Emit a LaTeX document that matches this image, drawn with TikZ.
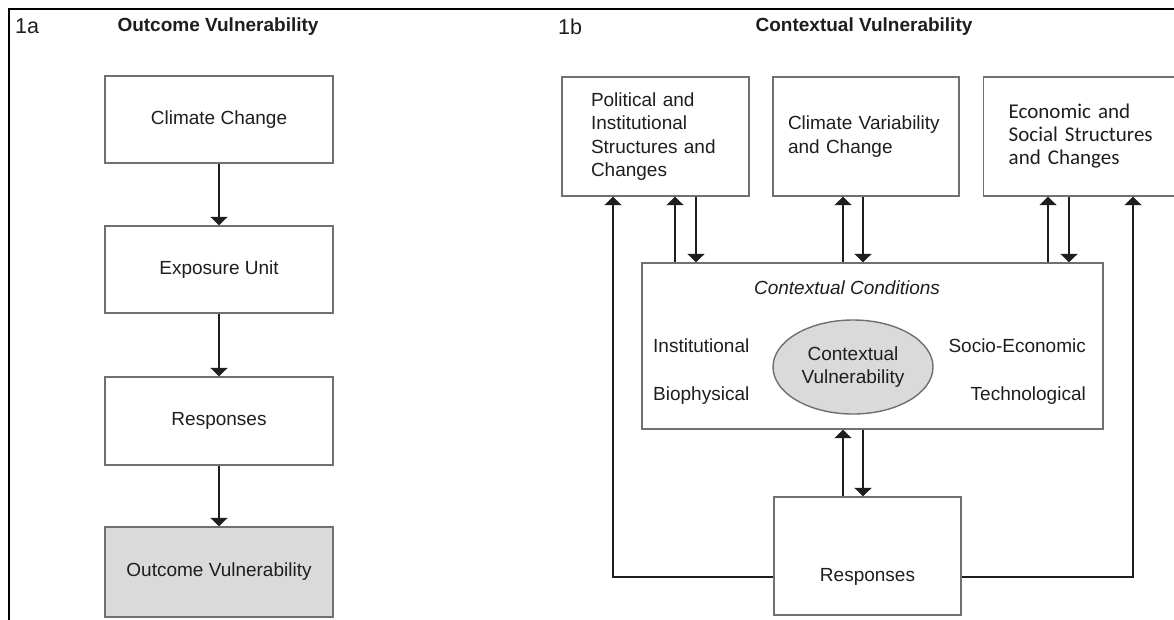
\documentclass[tikz,border=0pt]{standalone}
\usepackage{fontspec}
\setmainfont{Liberation Sans}
\newfontfamily\ecofont{Carlito}
\usetikzlibrary{arrows.meta,shapes.geometric}
\definecolor{ink}{HTML}{1E1E1E}
\definecolor{boxgray}{HTML}{707070}
\definecolor{shade}{HTML}{DADADA}
\begin{document}
\begin{tikzpicture}[x=1pt,y=-1pt,
  txt/.style={inner sep=0pt, text=ink, font=\fontsize{19}{23.5}\selectfont},
  ttl/.style={inner sep=0pt, text=ink, font=\bfseries\fontsize{19}{23}\selectfont},
  panel/.style={inner sep=0pt, text=ink, font=\fontsize{21.5}{24}\selectfont},
  box/.style={draw=boxgray, line width=1.4pt, fill=white, inner sep=0pt,
    text=ink, font=\fontsize{19}{23.5}\selectfont},
  arr/.style={draw=ink, line width=2pt, -{Triangle[width=17pt,length=8.5pt]}},
  link/.style={draw=ink, line width=2pt}
]
\useasboundingbox (0,0) rectangle (1174,619);
\clip (0,0) rectangle (1174,619);
\fill[white] (0,0) rectangle (1174,619);

% outer frame (left and top edges)
\draw[line width=2.2pt, black] (9,630) -- (9,9) -- (1190,9);

% ---------- panel 1a ----------
\node[panel, anchor=base west] (la) at (15,33) {1a};
\node[ttl, anchor=base] (ta) at (218,31) {Outcome Vulnerability};

\node[box, minimum width=228pt, minimum height=87pt] (cc) at (219,119.5) {Climate Change};
\node[box, minimum width=228pt, minimum height=87pt] (eu) at (219,269.5) {Exposure Unit};
\node[box, minimum width=228pt, minimum height=88pt] (rs) at (219,421) {Responses};
\node[box, fill=shade, minimum width=228pt, minimum height=90pt] (ov) at (219,572) {Outcome Vulnerability};

\draw[arr] (cc.south) -- (eu.north);
\draw[arr] (eu.south) -- (rs.north);
\draw[arr] (rs.south) -- (ov.north);

% ---------- panel 1b ----------
\node[panel, anchor=base west] (lb) at (558,34) {1b};
\node[ttl, anchor=base] (tb) at (864,31) {Contextual Vulnerability};

\node[box, minimum height=119pt, inner xsep=29pt, text width=129pt, align=left]
  (pol) at (655.5,136.5) {Political and\\Institutional\\Structures and\\Changes};
\node[box, minimum height=119pt, inner xsep=15pt, text width=156pt, align=left,
  font=\fontsize{19}{24}\selectfont]
  (cvc) at (866,136.5) {Climate Variability\\and Change};
\node[box, anchor=west, minimum height=119pt, inner xsep=25pt, text width=175pt, align=left,
  font=\ecofont\fontsize{21}{23}\selectfont]
  (eco) at (983,136.5) {Economic and\\Social Structures\\and Changes};

% contextual conditions
\node[box, minimum width=461pt, minimum height=166pt] (ctx) at (872.5,346) {};
\node[txt, anchor=base, font=\itshape\fontsize{19}{23}\selectfont] (cond) at (847,294) {Contextual Conditions};
\node[txt, anchor=base west] (inst) at (653,352) {Institutional};
\node[txt, anchor=base west] (bio) at (653,400) {Biophysical};
\node[txt, anchor=base east] (soc) at (1086,352) {Socio-Economic};
\node[txt, anchor=base east] (tech) at (1086,400) {Technological};
\node[box, ellipse, fill=shade, minimum width=160pt, minimum height=94pt, align=center,
  font=\fontsize{19}{23}\selectfont]
  (cv) at (853,367) {Contextual\\Vulnerability};

% responses
\node[box, minimum width=187pt, minimum height=118pt] (resp) at (867.5,556) {};
\node[txt] (respt) at (867.5,577) {Responses};

% exchanges between the structures and the contextual conditions
\draw[arr] (675,0 |- ctx.north) -- (675,0 |- pol.south);
\draw[arr] (696,0 |- pol.south) -- (696,0 |- ctx.north);
\draw[arr] (843,0 |- ctx.north) -- (843,0 |- cvc.south);
\draw[arr] (863,0 |- cvc.south) -- (863,0 |- ctx.north);
\draw[arr] (1048,0 |- ctx.north) -- (1048,0 |- eco.south);
\draw[arr] (1069,0 |- eco.south) -- (1069,0 |- ctx.north);
\draw[arr] (843,0 |- resp.north) -- (843,0 |- ctx.south);
\draw[arr] (863,0 |- ctx.south) -- (863,0 |- resp.north);

% feedback loops from the responses
\draw[arr] (resp.west |- respt.center) -| (613,0 |- pol.south);
\draw[arr] (resp.east |- respt.center) -| (1133,0 |- eco.south);
\end{tikzpicture}
\end{document}
